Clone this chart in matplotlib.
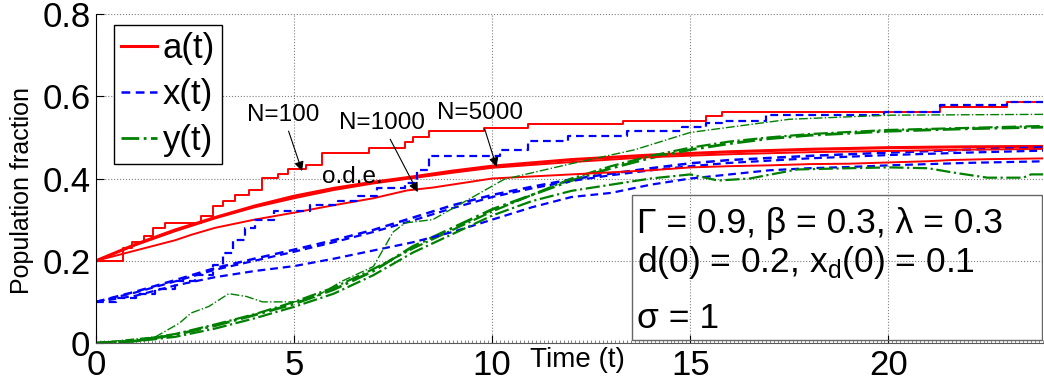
import numpy as np
import matplotlib
matplotlib.use('Agg')
import matplotlib.pyplot as plt
from matplotlib.patches import Rectangle
from matplotlib.ticker import MultipleLocator

plt.rcParams['font.family'] = ['Liberation Sans', 'DejaVu Sans']

# %% Data
# a(t): red
t_ode = [0, 1, 2, 3, 4, 5, 6, 7, 8, 9, 10, 12, 14, 16, 18, 20, 22, 24]
a_ode = [0.200, 0.240, 0.275, 0.305, 0.333, 0.357, 0.376, 0.391, 0.404, 0.418,
         0.430, 0.446, 0.457, 0.465, 0.471, 0.475, 0.477, 0.478]
a_5000 = [0.200, 0.238, 0.272, 0.303, 0.330, 0.352, 0.372, 0.388, 0.401, 0.414,
          0.426, 0.440, 0.452, 0.459, 0.464, 0.467, 0.470, 0.472]

t_a1000 = [0, 1, 2, 2.4, 3, 4, 5, 6, 7, 7.85, 8.5, 10, 11, 12, 13, 14, 15, 16,
           17, 18, 19, 20, 21, 21.6, 22.5, 24]
a_1000 = [0.2, 0.225, 0.25, 0.263, 0.28, 0.30, 0.317, 0.335, 0.352, 0.371, 0.378,
          0.40, 0.405, 0.41, 0.415, 0.42, 0.427, 0.43, 0.432, 0.435, 0.436, 0.439,
          0.442, 0.445, 0.447, 0.449]

t_a100 = [0, 0.68, 0.9, 1.2, 1.45, 1.75, 2.65, 2.95, 3.2, 3.5, 3.85, 4.2, 4.6,
          4.85, 5.3, 5.7, 6.9, 7.8, 8.0, 8.4, 9.8, 10.9, 13.3, 15.4, 15.8, 21.3,
          23.0, 24]
a_100 = [0.2, 0.23, 0.245, 0.26, 0.28, 0.293, 0.308, 0.332, 0.345, 0.361, 0.373,
         0.402, 0.41, 0.422, 0.432, 0.461, 0.475, 0.488, 0.50, 0.515, 0.524, 0.532,
         0.54, 0.553, 0.562, 0.575, 0.585, 0.585]

# x(t): blue
t_x = [0, 1, 2, 3, 4, 5, 6, 7, 8, 9, 10, 11, 12, 13, 14, 15, 16, 18, 20, 22, 24]
x_ode = [0.1, 0.125, 0.153, 0.182, 0.205, 0.227, 0.25, 0.275, 0.305, 0.335, 0.36,
         0.38, 0.398, 0.412, 0.425, 0.437, 0.445, 0.455, 0.463, 0.470, 0.476]
x_5000 = [0.1, 0.123, 0.15, 0.178, 0.2, 0.222, 0.245, 0.27, 0.298, 0.328, 0.355,
          0.376, 0.394, 0.408, 0.42, 0.43, 0.438, 0.449, 0.457, 0.463, 0.468]
t_x1000 = [0, 1, 2, 3, 4, 5, 6, 7, 8, 9, 10, 11, 12, 13, 14, 15, 16, 17, 18, 19,
           20, 21, 22, 23, 24]
x_1000 = [0.1, 0.115, 0.14, 0.16, 0.175, 0.187, 0.205, 0.225, 0.245, 0.27, 0.30,
          0.33, 0.355, 0.365, 0.385, 0.40, 0.41, 0.42, 0.425, 0.428, 0.432, 0.435,
          0.438, 0.44, 0.442]
t_x100 = [0, 0.5, 1.0, 1.5, 2.0, 2.5, 2.95, 3.2, 3.45, 3.75, 4.0, 4.5, 5.4, 6.1,
          6.6, 7.1, 7.8, 8.1, 8.4, 10.2, 10.9, 11.9, 13.4, 14.8, 15.4, 15.8, 16.9,
          19.9, 21.3, 23.0, 24]
x_100 = [0.1, 0.11, 0.12, 0.132, 0.15, 0.165, 0.19, 0.22, 0.25, 0.28, 0.30, 0.32,
         0.336, 0.345, 0.357, 0.377, 0.39, 0.42, 0.454, 0.47, 0.49, 0.503, 0.515,
         0.525, 0.534, 0.54, 0.554, 0.562, 0.578, 0.585, 0.585]

# y(t): green
t_y = [0, 1, 2, 3, 4, 5, 6, 7, 8, 9, 10, 11, 12, 13, 14, 15, 16, 17, 18, 20, 22, 24]
y_ode = [0, 0.005, 0.02, 0.042, 0.068, 0.095, 0.13, 0.175, 0.235, 0.28, 0.325,
         0.36, 0.395, 0.425, 0.45, 0.47, 0.485, 0.497, 0.505, 0.515, 0.521, 0.525]
y_5000 = [0, 0.006, 0.022, 0.045, 0.07, 0.1, 0.135, 0.18, 0.23, 0.275, 0.32, 0.36,
          0.40, 0.43, 0.455, 0.475, 0.49, 0.50, 0.508, 0.518, 0.523, 0.528]
t_y1000 = [0, 1, 2, 3, 4, 5, 6, 7, 8, 9, 10, 11, 12, 13, 14, 15, 15.7, 16.5, 17.7,
           19, 20, 21, 21.6, 22.5, 23.4, 23.6, 24]
y_1000 = [0, 0.004, 0.015, 0.035, 0.06, 0.088, 0.12, 0.165, 0.22, 0.265, 0.31,
          0.345, 0.37, 0.385, 0.40, 0.41, 0.395, 0.40, 0.422, 0.425, 0.427, 0.425,
          0.415, 0.402, 0.402, 0.41, 0.41]
t_y100 = [0, 1.5, 2.1, 2.4, 2.85, 3.35, 3.8, 4.2, 5.0, 5.5, 6.2, 7.0, 7.5, 7.8,
          8.5, 10.3, 11.9, 13.6, 15, 17.5, 20, 24]
y_100 = [0, 0.015, 0.048, 0.073, 0.089, 0.12, 0.113, 0.10, 0.10, 0.11, 0.15,
         0.186, 0.27, 0.292, 0.30, 0.398, 0.434, 0.47, 0.512, 0.544, 0.554, 0.556]

params_line1 = u'\u0393 = 0.9, \u03b2 = 0.3, \u03bb = 0.3'
params_line2 = u'd(0) = 0.2, x$_\\mathregular{d}$(0) = 0.1'
params_line3 = u'\u03c3 = 1'

# %% Figure
fig = plt.figure(figsize=(10.44, 3.9), dpi=100)
ax = fig.add_axes([0.092, 0.1205, 0.907, 0.8436])

red = '#ff0000'; blue = '#0000ff'; green = '#008000'

# o.d.e. curves
la, = ax.plot(t_ode, a_ode, color=red, lw=2.2)
lx, = ax.plot(t_x, x_ode, color=blue, lw=1.8, dashes=(3.5, 2.2))
ly, = ax.plot(t_y, y_ode, color=green, lw=2.0, linestyle='-.')

# N=5000
ax.plot(t_ode, a_5000, color=red, lw=1.4)
ax.plot(t_x, x_5000, color=blue, lw=1.6, dashes=(3.5, 2.2))
ax.plot(t_y, y_5000, color=green, lw=1.6, linestyle='-.')

# N=1000
ax.plot(t_a1000, a_1000, color=red, lw=1.4)
ax.plot(t_x1000, x_1000, color=blue, lw=1.6, dashes=(3.5, 2.2))
ax.plot(t_y1000, y_1000, color=green, lw=1.6, linestyle='-.')

# N=100
ax.plot(t_a100, a_100, color=red, lw=1.4, drawstyle='steps-post')
ax.plot(t_x100, x_100, color=blue, lw=1.6, dashes=(3.5, 2.2), drawstyle='steps-post')
ax.plot(t_y100, y_100, color=green, lw=1.0, linestyle='-.')

ax.set_xlim(0, 23.9)
ax.set_ylim(0, 0.8)
ax.set_xticks([0, 5, 10, 15, 20])
ax.set_yticks([0, 0.2, 0.4, 0.6, 0.8])
ax.set_yticklabels(['0', '0.2', '0.4', '0.6', '0.8'])
ax.xaxis.set_minor_locator(MultipleLocator(0.1))
ax.tick_params(axis='both', which='major', direction='in', labelsize=25,
               length=6, width=0.8, pad=4)
ax.tick_params(axis='x', which='minor', direction='in', length=2, width=0.6,
               color='0.45')
ax.grid(True, which='major', linestyle=':', color='0.5', lw=0.8)
ax.spines['top'].set_visible(False)
ax.spines['right'].set_visible(False)
ax.spines['bottom'].set_color('0.35')

ax.set_ylabel('Population fraction', fontsize=18)
ax.yaxis.set_label_coords(-0.066, 0.465)
ax.set_xlabel('Time (t)', fontsize=20)
ax.xaxis.set_label_coords(0.508, -0.012)

leg = ax.legend([la, lx, ly], ['a(t)', 'x(t)', 'y(t)'], loc='upper left',
                bbox_to_anchor=(0.019, 0.967), fontsize=25, handlelength=1.05,
                handletextpad=0.15, borderpad=0.2, labelspacing=0.38,
                borderaxespad=0, fancybox=False, framealpha=1)
leg.get_frame().set_edgecolor('k')
leg.get_frame().set_linewidth(1.0)

# annotations
arrow = dict(arrowstyle='-|>', color='k', lw=0.8, mutation_scale=14,
             shrinkA=2, shrinkB=0)
ax.annotate('N=100', xy=(5.2, 0.418), xytext=(4.72, 0.555), fontsize=17.5,
            ha='center', va='center', arrowprops=arrow)
ax.annotate('N=1000', xy=(8.12, 0.367), xytext=(7.21, 0.535), fontsize=17.5,
            ha='center', va='center', arrowprops=arrow)
ax.annotate('N=5000', xy=(10.11, 0.428), xytext=(9.68, 0.56), fontsize=17.5,
            ha='center', va='center', arrowprops=arrow)
ax.text(6.48, 0.404, 'o.d.e.', fontsize=17.5, ha='center', va='center')

# parameter box
ax.add_patch(Rectangle((0.566, 0.009), 0.433, 0.441, transform=ax.transAxes,
                       fill=False, edgecolor='0.4', lw=1.0, zorder=5))
ax.text(0.571, 0.362, params_line1, transform=ax.transAxes, fontsize=25.5,
        ha='left', va='center')
ax.text(0.571, 0.246, params_line2, transform=ax.transAxes, fontsize=25.5,
        ha='left', va='center')
ax.text(0.571, 0.076, params_line3, transform=ax.transAxes, fontsize=25.5,
        ha='left', va='center')

fig.savefig('out.png', dpi=100)
